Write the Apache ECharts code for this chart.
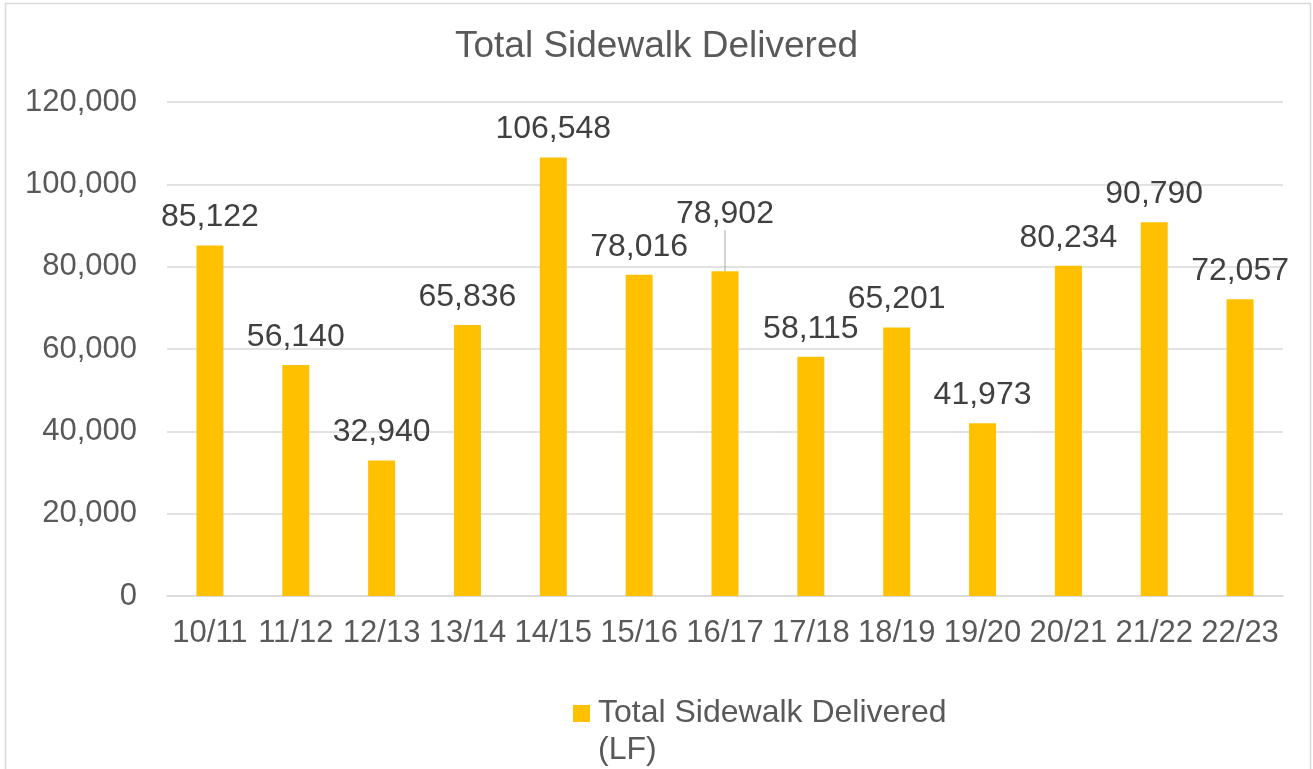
<!DOCTYPE html>
<html>
<head>
<meta charset="utf-8">
<title>Total Sidewalk Delivered</title>
<script src="https://cdn.jsdelivr.net/npm/echarts@6/dist/echarts.min.js"></script>
<style>
  html, body { margin: 0; padding: 0; background: #fff; }
  #chart { width: 1313px; height: 769px; }
</style>
</head>
<body>
<div id="chart"></div>
<script>
// fiscal years
var years = ['10/11', '11/12', '12/13', '13/14', '14/15', '15/16', '16/17',
             '17/18', '18/19', '19/20', '20/21', '21/22', '22/23'];
// linear feet delivered
var sidewalkLF = [85122, 56140, 32940, 65836, 106548, 78016, 78902,
                  58115, 65201, 41973, 80234, 90790, 72057];
var seriesName = 'Total Sidewalk Delivered (LF)';
// label that sits higher with a leader line
var liftedIndex = 6;

var font = '"Liberation Sans", Arial, sans-serif';
var fmt = function (v) { return Number(v).toLocaleString('en-US'); };

var chart = echarts.init(document.getElementById('chart'));

var barData = sidewalkLF.map(function (v, i) {
    if (i === liftedIndex) {
        return { value: v, labelLine: { show: true, lineStyle: { color: '#a6a6a6', width: 1 } } };
    }
    return v;
});

var option = {
    backgroundColor: '#fff',
    animation: false,
    title: {
        text: 'Total Sidewalk Delivered',
        left: 'center',
        top: 23,
        textStyle: { fontFamily: font, fontSize: 37, fontWeight: 'normal', color: '#595959' }
    },
    legend: {
        left: 573,
        top: 658,
        padding: 0,
        itemWidth: 17,
        itemHeight: 17,
        icon: 'rect',
        data: [seriesName],
        // blank first line keeps the icon level with the first text line
        formatter: function () { return ' \nTotal Sidewalk Delivered\n(LF)'; },
        textStyle: {
            fontFamily: font, fontSize: 32, color: '#595959',
            lineHeight: 37, padding: [0, 0, 0, 3]
        }
    },
    grid: { left: 167, right: 30, top: 102, bottom: 173 },
    xAxis: {
        type: 'category',
        data: years,
        axisLine: { lineStyle: { color: '#d9d9d9', width: 1.5 } },
        axisTick: { show: false },
        axisLabel: { interval: 0, margin: 22, fontFamily: font, fontSize: 31, color: '#595959' }
    },
    yAxis: {
        type: 'value',
        min: 0,
        max: 120000,
        interval: 20000,
        axisLine: { show: false },
        axisTick: { show: false },
        splitLine: { lineStyle: { color: '#d9d9d9', width: 1.5 } },
        axisLabel: { margin: 30, fontFamily: font, fontSize: 31, color: '#595959', formatter: fmt }
    },
    series: [{
        name: seriesName,
        type: 'bar',
        data: barData,
        barWidth: 27,
        itemStyle: { color: '#FFC000' },
        label: {
            show: true,
            position: 'top',
            distance: 12,
            fontFamily: font,
            fontSize: 32,
            color: '#404040',
            formatter: function (p) { return fmt(p.value); }
        },
        labelLayout: function (params) {
            if (params.dataIndex === liftedIndex) return { dy: -29 };
            return {};
        }
    }],
    graphic: [{
        type: 'rect',
        shape: { x: 5.5, y: 3.5, width: 1305, height: 800 },
        style: { fill: 'none', stroke: '#d9d9d9', lineWidth: 1.5 },
        silent: true
    }]
};

chart.setOption(option);
</script>
</body>
</html>
